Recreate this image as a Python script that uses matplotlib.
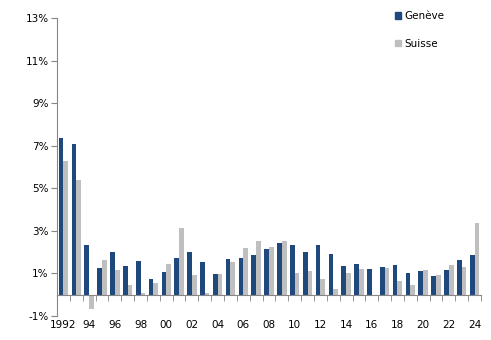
import matplotlib
matplotlib.use("Agg")
import matplotlib.pyplot as plt
from matplotlib.patches import Patch
import numpy as np

years = list(range(1992, 2025))
geneve = [7.37, 7.09, 2.35, 1.27, 2.02, 1.36, 1.60, 0.75, 1.08, 1.74,
          2.02, 1.55, 0.99, 1.69, 1.74, 1.88, 2.16, 2.44, 2.35, 2.02,
          2.35, 1.93, 1.36, 1.46, 1.22, 1.31, 1.41, 1.03, 1.13, 0.89,
          1.17, 1.64, 1.88]
suisse = [6.29, 5.40, -0.69, 1.64, 1.17, 0.47, 0.09, 0.56, 1.46, 3.15,
          0.94, 0.09, 0.99, 1.55, 2.21, 2.54, 2.25, 2.54, 1.03, 1.13,
          0.75, 0.28, 1.03, 1.22, 0.0, 1.27, 0.66, 0.47, 1.17, 0.94,
          1.41, 1.31, 3.38]
xlabels = ["1992", "94", "96", "98", "00", "02", "04", "06", "08", "10",
           "12", "14", "16", "18", "20", "22", "24"]
yticks = [-1, 1, 3, 5, 7, 9, 11, 13]

c_gen = "#1F497D"
c_sui = "#BFBFBF"
axis_c = "#868686"

fig = plt.figure(figsize=(4.91, 3.40), dpi=100)
ax = fig.add_axes([57/491, 1-316/340, 424/491, 298/340])

x = np.arange(len(years))
w = 0.365
ax.bar(x - w/2, geneve, width=w, color=c_gen, label="Genève")
ax.bar(x + w/2, suisse, width=w, color=c_sui, label="Suisse")

ax.set_xlim(-0.5, len(years) - 0.5)
ax.set_ylim(-1, 13)
ax.set_yticks(yticks)
ax.set_yticklabels([f"{v}%" for v in yticks])

for s in ["top", "right"]:
    ax.spines[s].set_visible(False)
ax.spines["bottom"].set_position(("data", 0))
ax.spines["bottom"].set_color(axis_c)
ax.spines["left"].set_color(axis_c)

ax.set_xticks(x[::2])
ax.set_xticklabels(xlabels)
ax.set_xticks(np.arange(-0.5, len(years), 1), minor=True)
ax.tick_params(axis="x", which="major", length=0, pad=18, labelsize=7.5, colors="black")
ax.tick_params(axis="x", which="minor", length=4, color=axis_c, direction="out")
ax.tick_params(axis="y", length=4, color=axis_c, labelsize=7.5, pad=2)

handles = [Patch(color=c_gen, label="Genève"), Patch(color=c_sui, label="Suisse")]
fig.legend(handles=handles, loc="upper left", bbox_to_anchor=(395/491, 1-11/340),
           frameon=False, fontsize=7.5, handlelength=0.6, handleheight=0.6,
           handletextpad=0.3, labelspacing=1.7, borderpad=0, borderaxespad=0)

fig.savefig("out.png", dpi=100)
